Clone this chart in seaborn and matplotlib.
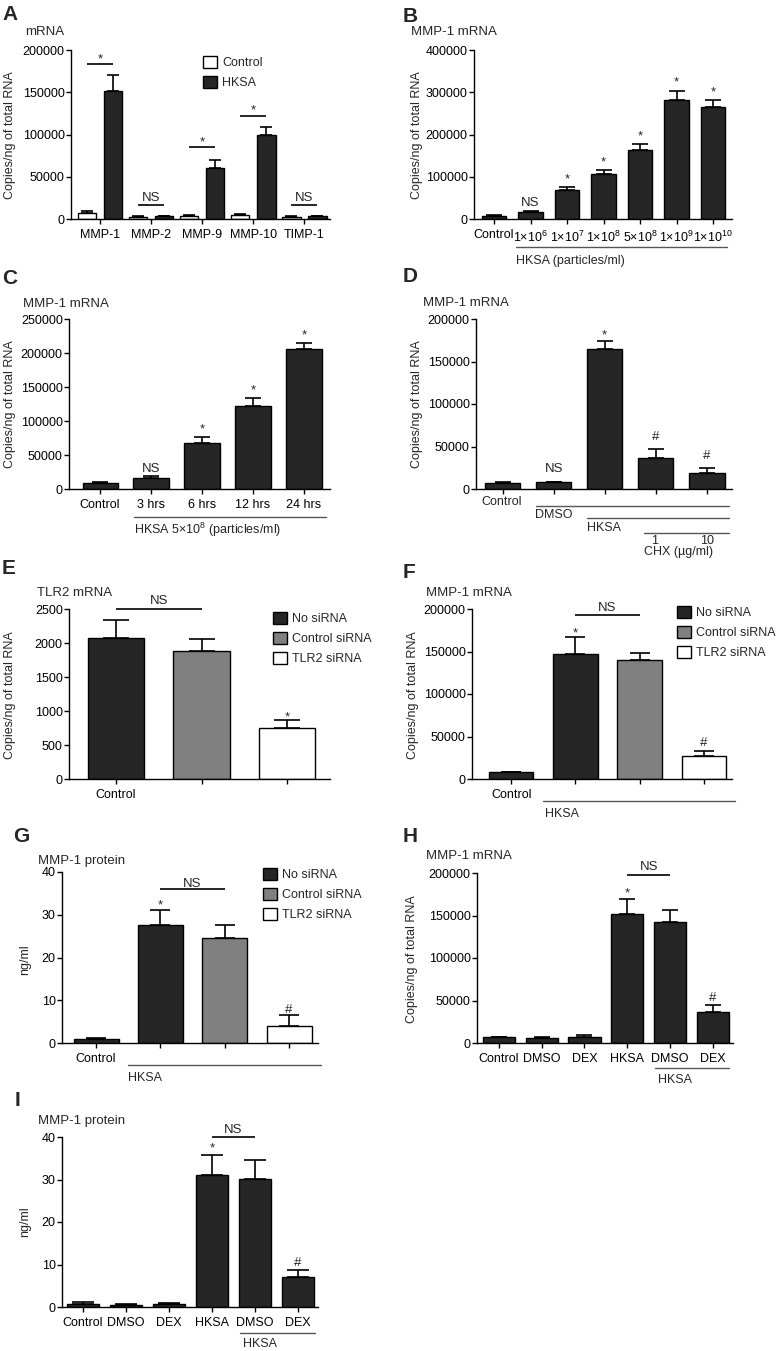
# -*- coding: utf-8 -*-
import numpy as np
import pandas as pd
import matplotlib
matplotlib.use("Agg")
import matplotlib.pyplot as plt
from matplotlib.lines import Line2D
from matplotlib.patches import Patch
from matplotlib.ticker import FormatStrFormatter
import seaborn as sns

# ---------------- data ----------------
a_genes = ["MMP-1", "MMP-2", "MMP-9", "MMP-10", "TIMP-1"]
a_control = [7100, 2400, 3900, 5100, 2400]
a_control_sem = [1900, 700, 800, 400, 600]
a_hksa = [152000, 3100, 60200, 99200, 3500]
a_hksa_sem = [19000, 800, 9500, 9500, 500]
a_sig = ["*", "NS", "*", "*", "NS"]
a_sig_y = [183000, 17000, 85400, 122400, 17000]

b_labels = ["Control", "1×10$^{6}$", "1×10$^{7}$", "1×10$^{8}$", "5×10$^{8}$",
            "1×10$^{9}$", "1×10$^{10}$"]
b_means = [7900, 17300, 68500, 106300, 163800, 281900, 266100]
b_sem = [2300, 600, 7900, 10200, 14200, 22100, 15800]
b_sig = ["", "NS", "*", "*", "*", "*", "*"]

c_labels = ["Control", "3 hrs", "6 hrs", "12 hrs", "24 hrs"]
c_means = [9300, 16200, 68100, 121600, 206400]
c_sem = [500, 2400, 7900, 12700, 7800]
c_sig = ["", "NS", "*", "*", "*"]

d_keys = ["Control", "DMSO", "HKSA", "HKSA+CHX 1", "HKSA+CHX 10"]
d_means = [7450, 8200, 164700, 36000, 19200]
d_sem = [300, 300, 9400, 11000, 5900]
d_sig = ["", "NS", "*", "#", "#"]

si_labels = ["No siRNA", "Control siRNA", "TLR2 siRNA"]
e_means = [2080, 1885, 748]
e_sem = [258, 170, 113]
e_sig = ["", "", "*"]

f_keys = ["Control", "HKSA No siRNA", "HKSA Control siRNA", "HKSA TLR2 siRNA"]
f_means = [8200, 147100, 140100, 26600]
f_sem = [300, 19600, 8600, 5900]
f_sig = ["", "*", "", "#"]

g_means = [0.9, 27.7, 24.6, 4.05]
g_sem = [0.3, 3.5, 3.1, 2.45]
g_sig = ["", "*", "", "#"]

dex_keys = ["Control", "DMSO", "DEX", "HKSA", "HKSA+DMSO", "HKSA+DEX"]
dex_ticks = ["Control", "DMSO", "DEX", "HKSA", "DMSO", "DEX"]
h_means = [6600, 5900, 7000, 151200, 142600, 36300]
h_sem = [300, 1500, 2000, 18700, 14000, 8600]
i_means = [0.63, 0.39, 0.63, 31.1, 30.1, 7.1]
i_sem = [0.54, 0.39, 0.37, 4.6, 4.6, 1.6]
dex_sig = ["", "", "", "*", "", "#"]

DARK = "#262626"
GREY = "#808080"
W, H = 778, 1351

sns.set_style("ticks")
plt.rcParams["font.family"] = ["Liberation Sans", "DejaVu Sans"]
plt.rcParams["mathtext.fontset"] = "custom"
plt.rcParams["mathtext.rm"] = "Liberation Sans"
plt.rcParams["mathtext.it"] = "Liberation Sans:italic"
plt.rcParams["mathtext.bf"] = "Liberation Sans:bold"

fig = plt.figure(figsize=(W / 100, H / 100), dpi=100)


def add_axes(l, t, r, b):
    return fig.add_axes([l / W, 1 - b / H, (r - l) / W, (b - t) / H])


def ftext(x, y, s, **kw):
    kw.setdefault("fontsize", 9)
    kw.setdefault("va", "center")
    fig.text(x / W, 1 - y / H, s, **kw)


def letter(x, y, s):
    ftext(x, y, s, fontsize=15, fontweight="bold")


def fline(x1, x2, y):
    fig.add_artist(Line2D([x1 / W, x2 / W], [1 - y / H] * 2, color="#555555", lw=1))


def style(ax, ymax, step, xlim, xticklabels):
    ax.set_ylim(0, ymax)
    ax.set_yticks(np.arange(0, ymax + 1, step))
    ax.yaxis.set_major_formatter(FormatStrFormatter("%d"))
    ax.set_xlim(*xlim)
    ax.set_xticks(range(len(xticklabels)))
    ax.set_xticklabels(xticklabels)
    ax.set_xlabel("")
    ax.set_ylabel("")
    sns.despine(ax=ax)
    ax.tick_params(axis="both", direction="out", length=3.5, width=1,
                   labelsize=9, colors="black")
    ax.tick_params(axis="y", pad=1)
    ax.tick_params(axis="x", pad=4)
    for s in ["left", "bottom"]:
        ax.spines[s].set_linewidth(1)
        ax.spines[s].set_color("black")


def errbars(ax, xs, means, sems, capsize):
    ax.errorbar(xs, means, yerr=[np.zeros(len(means)), sems], fmt="none",
                ecolor="black", elinewidth=1.2, capsize=capsize, capthick=1.2,
                zorder=3)


def bar_panel(ax, keys, means, sems, colors, width, capsize):
    df = pd.DataFrame({"group": keys, "value": means})
    sns.barplot(data=df, x="group", y="value", hue="group", order=keys,
                hue_order=keys, palette=dict(zip(keys, colors)), dodge=False,
                width=width, saturation=1, edgecolor="black", linewidth=1,
                errorbar=None, legend=False, ax=ax)
    xs = np.sort([p.get_x() + p.get_width() / 2 for p in ax.patches])
    errbars(ax, xs, means, sems, capsize)
    return xs, np.array(means) + np.array(sems)


def sig(ax, x, y, s, off):
    if s:
        ax.annotate(s, xy=(x, y), xytext=(0, off), textcoords="offset points",
                    ha="center", va="baseline", fontsize=9.5,
                    annotation_clip=False)


def bracket(ax, x1, x2, y, s, off):
    ax.plot([x1, x2], [y, y], color="black", lw=1.2, clip_on=False,
            solid_capstyle="butt")
    sig(ax, (x1 + x2) / 2, y, s, off)


def legend(ax, labels, colors, x, y):
    handles = [Patch(facecolor=c, edgecolor="black", linewidth=1) for c in colors]
    ax.legend(handles, labels, loc="upper left",
              bbox_to_anchor=(x / W, 1 - y / H), bbox_transform=fig.transFigure,
              frameon=False, borderpad=0, borderaxespad=0, handlelength=1.15,
              handleheight=1.1, handletextpad=0.4, labelspacing=0.55,
              fontsize=9)


# ---------------- A ----------------
ax = add_axes(71, 50, 330, 219)
df_a = pd.DataFrame({"gene": a_genes * 2,
                     "treatment": ["Control"] * 5 + ["HKSA"] * 5,
                     "value": a_control + a_hksa})
sns.barplot(data=df_a, x="gene", y="value", hue="treatment", order=a_genes,
            hue_order=["Control", "HKSA"],
            palette={"Control": "white", "HKSA": DARK}, width=1.02, gap=0.3,
            saturation=1, edgecolor="black", linewidth=1, errorbar=None,
            legend=False, ax=ax)
xc = np.sort([p.get_x() + p.get_width() / 2 for p in ax.containers[0]])
xh = np.sort([p.get_x() + p.get_width() / 2 for p in ax.containers[1]])
errbars(ax, xc, a_control, a_control_sem, 4.3)
errbars(ax, xh, a_hksa, a_hksa_sem, 4.3)
style(ax, 200000, 50000, (-0.57, 4.5), a_genes)
for i, s in enumerate(a_sig):
    bracket(ax, xc[i], xh[i], a_sig_y[i], s, 1.2 if s == "*" else 2.5)
legend(ax, ["Control", "HKSA"], ["white", DARK], 203, 56)
letter(2, 15, "A")
ftext(25, 32, "mRNA", fontsize=9.5)
ftext(10, 135, "Copies/ng of total RNA", rotation=90, ha="center")

# ---------------- B ----------------
ax = add_axes(474, 50, 732, 219)
xs, tops = bar_panel(ax, b_labels, b_means, b_sem, [DARK] * 7, 0.68, 5.8)
style(ax, 400000, 100000, (-0.55, 6.52), b_labels)
for x, t, s in zip(xs, tops, b_sig):
    sig(ax, x, t, s, 3.4 if s == "*" else 4)
fline(516, 727, 247)
ftext(516, 261, "HKSA (particles/ml)")
letter(403, 16, "B")
ftext(411, 32, "MMP-1 mRNA", fontsize=9.5)
ftext(417, 135, "Copies/ng of total RNA", rotation=90, ha="center")

# ---------------- C ----------------
ax = add_axes(69, 319, 330, 489)
xs, tops = bar_panel(ax, c_labels, c_means, c_sem, [DARK] * 5, 0.69, 5.5)
style(ax, 250000, 50000, (-0.61, 4.51), c_labels)
for x, t, s in zip(xs, tops, c_sig):
    sig(ax, x, t, s, 3.4 if s == "*" else 3.2)
fline(134, 326, 517)
ftext(134, 530, "HKSA 5×10$^{8}$ (particles/ml)")
letter(2, 279, "C")
ftext(23, 304, "MMP-1 mRNA", fontsize=9.5)
ftext(10, 404, "Copies/ng of total RNA", rotation=90, ha="center")

# ---------------- D ----------------
ax = add_axes(476, 319, 732, 489)
xs, tops = bar_panel(ax, d_keys, d_means, d_sem, [DARK] * 5, 0.69, 5.8)
style(ax, 200000, 50000, (-0.52, 4.49), [""] * 5)
for x, t, s in zip(xs, tops, d_sig):
    sig(ax, x, t, s, {"*": 2.0, "#": 6.2, "NS": 6.8}.get(s, 0))
ftext(502, 502, "Control", ha="center")
fline(536, 729, 506)
ftext(535, 515, "DMSO")
fline(587, 729, 518)
ftext(587, 528, "HKSA")
fline(644, 729, 533)
ftext(655, 541, "1", ha="center")
ftext(707, 541, "10", ha="center")
ftext(678, 552, "CHX (µg/ml)", ha="center")
letter(403, 277, "D")
ftext(423, 303, "MMP-1 mRNA", fontsize=9.5)
ftext(417, 404, "Copies/ng of total RNA", rotation=90, ha="center")

# ---------------- E ----------------
ax = add_axes(69, 609, 330, 779)
xs, tops = bar_panel(ax, si_labels, e_means, e_sem, [DARK, GREY, "white"],
                     0.66, 9.7)
style(ax, 2500, 500, (-0.55, 2.5), ["Control", "", ""])
for x, t, s in zip(xs, tops, e_sig):
    sig(ax, x, t, s, 0.2)
bracket(ax, xs[0], xs[1], 2500, "NS", 3.6)
legend(ax, si_labels, [DARK, GREY, "white"], 273, 612)
letter(2, 569, "E")
ftext(37, 593, "TLR2 mRNA", fontsize=9.5)
ftext(10, 695, "Copies/ng of total RNA", rotation=90, ha="center")

# ---------------- F ----------------
ax = add_axes(472, 609, 732, 779)
xs, tops = bar_panel(ax, f_keys, f_means, f_sem, [DARK, DARK, GREY, "white"],
                     0.69, 7)
style(ax, 200000, 50000, (-0.61, 3.44), ["Control", "", "", ""])
for x, t, s in zip(xs, tops, f_sig):
    sig(ax, x, t, s, 0.6 if s == "*" else 4)
bracket(ax, xs[1], xs[2], 193000, "NS", 3.2)
legend(ax, si_labels, [DARK, GREY, "white"], 677, 606)
fline(543, 735, 801)
ftext(545, 814, "HKSA")
letter(403, 572, "F")
ftext(426, 593, "MMP-1 mRNA", fontsize=9.5)
ftext(413, 695, "Copies/ng of total RNA", rotation=90, ha="center")

# ---------------- G ----------------
ax = add_axes(62, 872, 318, 1043)
xs, tops = bar_panel(ax, f_keys, g_means, g_sem, [DARK, DARK, GREY, "white"],
                     0.70, 7)
style(ax, 40, 10, (-0.53, 3.45), ["Control", "", "", ""])
for x, t, s in zip(xs, tops, g_sig):
    sig(ax, x, t, s, 0.6 if s == "*" else 1.9)
bracket(ax, xs[1], xs[2], 36.0, "NS", 1.6)
legend(ax, si_labels, [DARK, GREY, "white"], 263, 868)
fline(128, 321, 1065)
ftext(128, 1078, "HKSA")
letter(13, 837, "G")
ftext(38, 861, "MMP-1 protein", fontsize=9.5)
ftext(25, 960, "ng/ml", rotation=90, ha="center")

# ---------------- H ----------------
ax = add_axes(477, 873, 733, 1043)
xs, tops = bar_panel(ax, dex_keys, h_means, h_sem, [DARK] * 6, 0.75, 6)
style(ax, 200000, 50000, (-0.51, 5.47), dex_ticks)
for x, t, s in zip(xs, tops, dex_sig):
    sig(ax, x, t, s, 1.2 if s == "*" else 2.6)
bracket(ax, xs[3], xs[4], 197600, "NS", 3.5)
fline(655, 729, 1068)
ftext(658, 1080, "HKSA")
letter(403, 836, "H")
ftext(426, 856, "MMP-1 mRNA", fontsize=9.5)
ftext(412, 959, "Copies/ng of total RNA", rotation=90, ha="center")

# ---------------- I ----------------
ax = add_axes(62, 1137, 318, 1307)
xs, tops = bar_panel(ax, dex_keys, i_means, i_sem, [DARK] * 6, 0.74, 8)
style(ax, 40, 10, (-0.49, 5.47), dex_ticks)
for x, t, s in zip(xs, tops, dex_sig):
    sig(ax, x, t, s, 2.7 if s == "*" else 2.6)
bracket(ax, xs[3], xs[4], 40, "NS", 3.2)
fline(240, 315, 1333)
ftext(243, 1344, "HKSA")
letter(15, 1100, "I")
ftext(38, 1121, "MMP-1 protein", fontsize=9.5)
ftext(25, 1222, "ng/ml", rotation=90, ha="center")

fig.savefig("out.png", dpi=100)
